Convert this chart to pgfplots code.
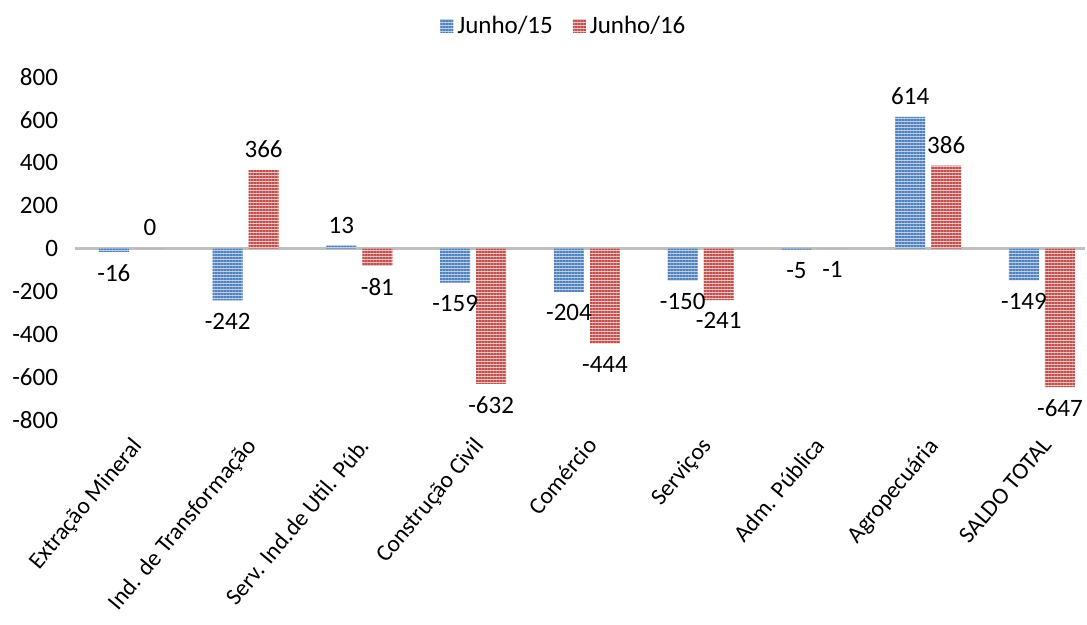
\documentclass[border=0pt]{standalone}
\usepackage{fontspec}
\setmainfont{Carlito}
\usepackage{pgfplots}
\pgfplotsset{compat=1.18}
\usetikzlibrary{patterns.meta}
\definecolor{c15}{RGB}{79,129,189}
\definecolor{c15l}{RGB}{190,208,232}
\definecolor{c16}{RGB}{192,80,77}
\definecolor{c16l}{RGB}{236,196,195}
\begin{document}
\begin{tikzpicture}
\begin{axis}[
    scale only axis,
    width=505pt, height=171.5pt,
    xmin=-0.5, xmax=8.378,
    ymin=-800, ymax=800,
    ytick={-800,-600,...,800},
    xtick={0,...,8},
    xticklabels={Extração Mineral, Ind. de Transformação, Serv. Ind.de Util. Púb., Construção Civil, Comércio, Serviços, Adm. Pública, Agropecuária, SALDO TOTAL},
    xticklabel style={xshift=-1pt, yshift=-3pt, rotate=50, anchor=north east, font=\fontsize{11.8}{13}\selectfont},
    yticklabel style={font=\fontsize{12.5}{14}\selectfont, xshift=-5pt},
    /pgf/number format/assume math mode=true,
    axis line style={draw=none},
    major tick length=0pt,
    extra y ticks={0}, extra y tick labels={},
    extra y tick style={grid=major, major grid style={draw=black!25, line width=1.2pt}},
    ybar, bar width=15pt,
    nodes near coords,
    nodes near coords style={font=\fontsize{12.5}{14}\selectfont, inner ysep=6pt, /pgf/number format/assume math mode=true},
    legend columns=2,
    legend style={draw=none, at={(0.485,1.149)}, anchor=center, font=\fontsize{12.5}{14}\selectfont, /tikz/every even column/.append style={column sep=8pt}},
    area legend,
    legend image code/.code={\fill[#1] (0pt,-3.25pt) rectangle (6.5pt,3.25pt);},
    clip=false,
]
\addplot[bar shift=-9pt, draw=none, fill=c15l, postaction={pattern={Lines[angle=0,distance=1.5pt,line width=0.75pt]}, pattern color=c15}]
  coordinates {(0,-16) (1,-242) (2,13) (3,-159) (4,-204) (5,-150) (6,-5) (7,614) (8,-149)};
\addlegendentry{Junho/15}
\addplot[bar shift=9pt, draw=none, fill=c16l, postaction={pattern={Lines[angle=0,distance=1.5pt,line width=0.75pt]}, pattern color=c16}]
  coordinates {(0,0) (1,366) (2,-81) (3,-632) (4,-444) (5,-241) (6,-1) (7,386) (8,-647)};
\addlegendentry{Junho/16}
\end{axis}
\pgfresetboundingbox
\path ([shift={(-37.5pt,-102pt)}]current axis.south west) rectangle ([shift={(1pt,38.5pt)}]current axis.north east);
\end{tikzpicture}
\end{document}
